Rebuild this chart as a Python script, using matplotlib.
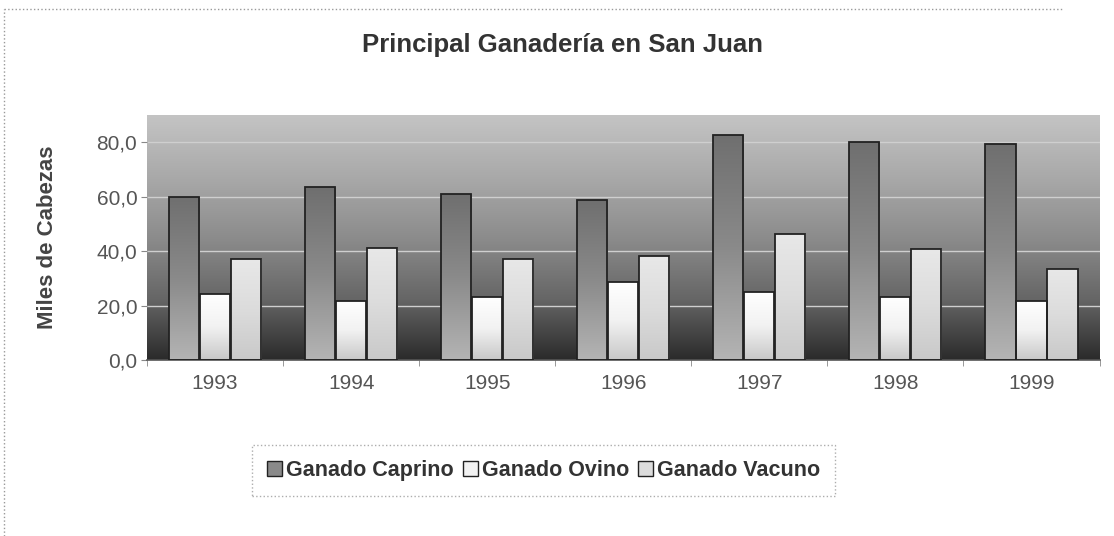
# Principal Ganadería en San Juan - grouped bar chart (Excel style)

# Import libraries ............................................................
import numpy as np
import matplotlib
matplotlib.use("Agg")
import matplotlib.pyplot as plt
from matplotlib.lines import Line2D
from matplotlib.patches import Patch
from matplotlib.colors import LinearSegmentedColormap


# Data ........................................................................
years = ["1993", "1994", "1995", "1996", "1997", "1998", "1999"]
caprino = [60.0, 63.5, 61.1, 59.0, 82.7, 80.0, 79.4]
ovino = [24.4, 21.8, 23.2, 28.7, 25.0, 23.2, 21.8]
vacuno = [37.0, 41.3, 37.3, 38.2, 46.4, 40.7, 33.6]
series_names = ["Ganado Caprino", "Ganado Ovino", "Ganado Vacuno"]
y_ticks = [0, 20, 40, 60, 80]
y_labels = ["0,0", "20,0", "40,0", "60,0", "80,0"]

plt.rcParams["font.family"] = ["Liberation Sans", "DejaVu Sans"]


# Figure ......................................................................
fig = plt.figure(figsize=(11.14, 5.36), dpi=100)
ax = fig.add_axes([0.132, 0.328, 0.855, 0.457])

x = np.arange(len(years))
width = 0.228
ymax = 90

# background gradient (dark at the bottom, light grey at the top)
bg_cmap = LinearSegmentedColormap.from_list(
    "bg", [(0.0, "#2b2b2b"), (0.25, "#666666"), (0.5, "#8c8c8c"),
           (0.72, "#a6a6a6"), (1.0, "#c4c4c4")])
grad = np.linspace(0, 1, 256).reshape(-1, 1)
ax.imshow(grad, aspect="auto", cmap=bg_cmap, origin="lower",
          extent=[-0.5, len(years) - 0.5, 0, ymax], zorder=0)

# grid lines
for t in y_ticks[1:]:
    ax.axhline(t, color="#cfcfcf", linewidth=1.0, zorder=1)

# bars with vertical gradient fill
styles = [
    (caprino, -width, ["#b4b4b4", "#8a8a8a", "#6f6f6f"]),
    (ovino, 0.0, ["#c8c8c8", "#f2f2f2", "#ffffff"]),
    (vacuno, width, ["#c9c9c9", "#dcdcdc", "#e8e8e8"]),
]
bar_sets = []
for vals, offset, cols in styles:
    bars = ax.bar(x + offset, vals, width * 0.97, facecolor="none",
                  edgecolor="#222222", linewidth=1.3, zorder=3)
    cmap = LinearSegmentedColormap.from_list("b", cols)
    for b in bars:
        bx, by = b.get_x(), b.get_y()
        bw, bh = b.get_width(), b.get_height()
        im = ax.imshow(grad, aspect="auto", cmap=cmap, origin="lower",
                       extent=[bx, bx + bw, by, by + bh], zorder=2)
        im.set_clip_path(b)
    bar_sets.append((bars, cols))

ax.set_xlim(-0.5, len(years) - 0.5)
ax.set_ylim(0, ymax)

# axes styling
ax.set_yticks(y_ticks)
ax.set_yticklabels(y_labels, fontsize=15, color="#555555")
ax.set_xticks(x)
ax.set_xticklabels(years, fontsize=15, color="#555555")
ax.tick_params(axis="x", length=0, pad=10)
ax.tick_params(axis="y", length=4, color="#888888", pad=3)
ax.set_xticks(np.arange(-0.5, len(years), 1), minor=True)
ax.tick_params(axis="x", which="minor", length=4, color="#888888")
for s in ["top", "right", "left"]:
    ax.spines[s].set_visible(False)
ax.spines["bottom"].set_color("#555555")
ax.spines["bottom"].set_linewidth(1.2)

ax.set_ylabel("Miles de Cabezas", fontsize=16, fontweight="bold",
              color="#444444", labelpad=28)
fig.text(0.505, 0.916, "Principal Ganadería en San Juan", ha="center",
         va="center", fontsize=18.5, fontweight="bold", color="#333333")

# legend
handles = [Patch(facecolor=cols[1], edgecolor="#222222", linewidth=1.0)
           for _, cols in bar_sets]
leg = fig.legend(handles, series_names, loc="center",
                 bbox_to_anchor=(0.488, 0.122), ncol=3, frameon=True,
                 fancybox=False, handlelength=0.7, handleheight=0.7,
                 handletextpad=0.2, columnspacing=0.4, borderpad=0.7,
                 prop={"size": 15.5, "weight": "bold"})
leg.get_frame().set_edgecolor("#999999")
leg.get_frame().set_linestyle(":")
leg.get_frame().set_linewidth(1.0)
for t in leg.get_texts():
    t.set_color("#333333")

# dotted outer border (top and left)
fig.add_artist(Line2D([0.004, 0.955], [0.983, 0.983], color="#999999",
                      linestyle=":", linewidth=1.0))
fig.add_artist(Line2D([0.004, 0.004], [0.0, 0.983], color="#999999",
                      linestyle=":", linewidth=1.0))

plt.savefig("out.png", dpi=100)
